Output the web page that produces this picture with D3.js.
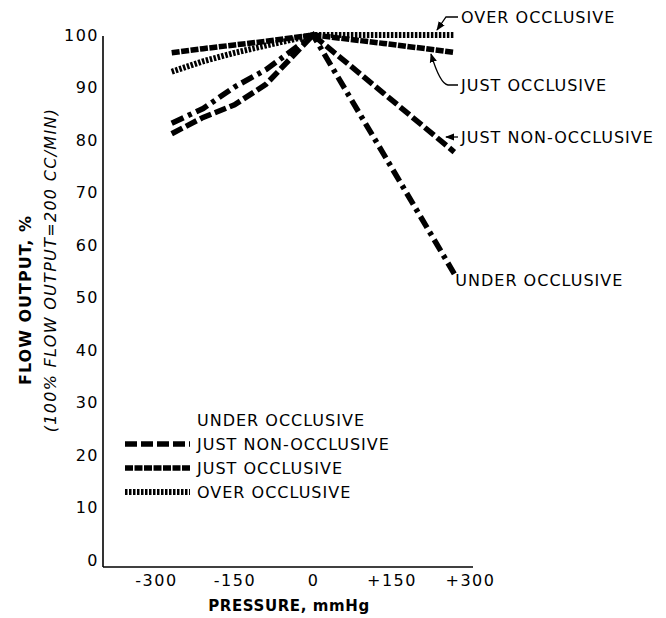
<!DOCTYPE html>
<html>
<head>
<meta charset="utf-8">
<script src="https://cdn.jsdelivr.net/npm/d3@7"></script>
<style>
  body { margin: 0; background: #fff; }
  text { font-family: "DejaVu Sans", sans-serif; fill: #000; }
</style>
</head>
<body>
<div id="chart"></div>
<script>
// pressure points (mmHg)
var pressure = [-270, -210, -150, -90, 0, 135, 270];

// flow output, %
var underOcclusive = [83.2, 86.0, 90.1, 93.4, 100, 77.3, 54.5];
var justNonOcclusive = [81.2, 84.3, 86.7, 90.6, 100, 88.9, 77.7];
var justOcclusive = [96.6, 97.4, 98.1, 98.8, 100, 98.4, 96.7];
var overOcclusive = [93.0, 95.0, 96.6, 98.0, 100, 100, 100];

var seriesNames = ["UNDER OCCLUSIVE", "JUST NON-OCCLUSIVE", "JUST OCCLUSIVE", "OVER OCCLUSIVE"];

var xTicks = [-300, -150, 0, 150, 300];
var xTickLabels = ["-300", "-150", "0", "+150", "+300"];
var yTicks = [0, 10, 20, 30, 40, 50, 60, 70, 80, 90, 100];

function drawChart() {
    var width = 666,
        height = 618;

    var svg = d3.select("#chart")
        .append("svg")
        .attr("width", width)
        .attr("height", height);

    var x = d3.scaleLinear().domain([-300, 300]).range([156, 470]);
    var y = d3.scaleLinear().domain([0, 100]).range([560, 35]);

    //axis lines (frame drawn by hand like the original)
    svg.append("line")
        .attr("x1", 103).attr("x2", 103)
        .attr("y1", 36).attr("y2", 567)
        .attr("stroke", "#000").attr("stroke-width", 1.6);
    svg.append("line")
        .attr("x1", 103).attr("x2", 473)
        .attr("y1", 567).attr("y2", 567)
        .attr("stroke", "#000").attr("stroke-width", 1.6);

    //tick labels through d3 axes, no tick marks
    var yAxis = svg.append("g")
        .attr("transform", "translate(99,0)")
        .call(d3.axisLeft(y).tickValues(yTicks).tickSize(0).tickPadding(0));
    yAxis.select(".domain").remove();
    yAxis.selectAll("text")
        .style("font-family", "DejaVu Sans")
        .style("font-size", "16px")
        .style("letter-spacing", "1.5px");

    var xAxis = svg.append("g")
        .attr("transform", "translate(0,575)")
        .call(d3.axisBottom(x).tickValues(xTicks).tickSize(0).tickPadding(0)
            .tickFormat(function (d, i) { return xTickLabels[i]; }));
    xAxis.select(".domain").remove();
    xAxis.selectAll("text")
        .style("font-family", "DejaVu Sans")
        .style("font-size", "16px")
        .style("letter-spacing", "1.5px");

    //axis titles
    svg.append("text")
        .attr("x", 289).attr("y", 611)
        .attr("text-anchor", "middle")
        .style("font-size", "15px")
        .style("font-weight", "bold")
        .style("letter-spacing", "0.6px")
        .text("PRESSURE, mmHg");

    svg.append("text")
        .attr("transform", "translate(31,300) rotate(-90)")
        .attr("text-anchor", "middle")
        .style("font-size", "16px")
        .style("font-weight", "bold")
        .style("letter-spacing", "1px")
        .text("FLOW OUTPUT, %");

    svg.append("text")
        .attr("transform", "translate(56,270) rotate(-90)")
        .attr("text-anchor", "middle")
        .style("font-size", "16px")
        .style("font-style", "italic")
        .style("letter-spacing", "1.3px")
        .text("(100% FLOW OUTPUT=200 CC/MIN)");

    //line styles for each series
    var styles = [
        { data: underOcclusive, dash: "13,5,4,5", w: 5.5 },
        { data: justNonOcclusive, dash: "12,4", w: 5.5 },
        { data: justOcclusive, dash: "8,1.5", w: 5.5 },
        { data: overOcclusive, dash: "2.5,1.5", w: 6 }
    ];

    var line = d3.line()
        .x(function (d) { return x(d[0]); })
        .y(function (d) { return y(d[1]); })
        .curve(d3.curveLinear);

    svg.selectAll(".series")
        .data(styles)
        .enter()
        .append("path")
        .attr("class", "series")
        .attr("fill", "none")
        .attr("stroke", "#000")
        .attr("stroke-width", function (d) { return d.w; })
        .attr("stroke-dasharray", function (d) { return d.dash; })
        .attr("d", function (d) {
            return line(pressure.map(function (p, i) { return [p, d.data[i]]; }));
        });

    //legend (the original shows no sample for under occlusive)
    var legend = svg.append("g");
    var legRows = [420, 444, 468, 492];
    styles.forEach(function (s, i) {
        if (i > 0) {
            legend.append("line")
                .attr("x1", 125).attr("x2", 190)
                .attr("y1", legRows[i]).attr("y2", legRows[i])
                .attr("stroke", "#000")
                .attr("stroke-width", s.w)
                .attr("stroke-dasharray", s.dash);
        }
        legend.append("text")
            .attr("x", 197).attr("y", legRows[i])
            .attr("dy", "0.36em")
            .style("font-size", "16px")
            .style("letter-spacing", "1px")
            .text(seriesNames[i]);
    });

    //arrow marker for leader lines
    svg.append("defs").append("marker")
        .attr("id", "arrow")
        .attr("viewBox", "0 0 10 10")
        .attr("refX", 9).attr("refY", 5)
        .attr("markerWidth", 7).attr("markerHeight", 7)
        .attr("orient", "auto-start-reverse")
        .append("path")
        .attr("d", "M0,1 L10,5 L0,9 Z")
        .attr("fill", "#000");

    //end labels with leaders
    var endX = x(pressure[pressure.length - 1]);
    var leaders = [
        { path: "M458,17 L446,17 L437,30" },
        { path: "M458,85 L448,85 Q440,84 431,54" },
        { path: "M458,137 L446,137" }
    ];
    leaders.forEach(function (l) {
        svg.append("path")
            .attr("d", l.path)
            .attr("fill", "none")
            .attr("stroke", "#000")
            .attr("stroke-width", 1.3)
            .attr("marker-end", "url(#arrow)");
    });

    var endLabels = [
        { name: seriesNames[3], lx: 461, ly: 17 },
        { name: seriesNames[2], lx: 461, ly: 85 },
        { name: seriesNames[1], lx: 461, ly: 137 },
        { name: seriesNames[0], lx: endX + 1, ly: y(underOcclusive[underOcclusive.length - 1]) + 6 }
    ];
    svg.selectAll(".endLabel")
        .data(endLabels)
        .enter()
        .append("text")
        .attr("class", "endLabel")
        .attr("x", function (d) { return d.lx; })
        .attr("y", function (d) { return d.ly; })
        .attr("dy", "0.36em")
        .style("font-size", "16px")
        .style("letter-spacing", "1px")
        .text(function (d) { return d.name; });
}

window.onload = drawChart;
</script>
</body>
</html>
